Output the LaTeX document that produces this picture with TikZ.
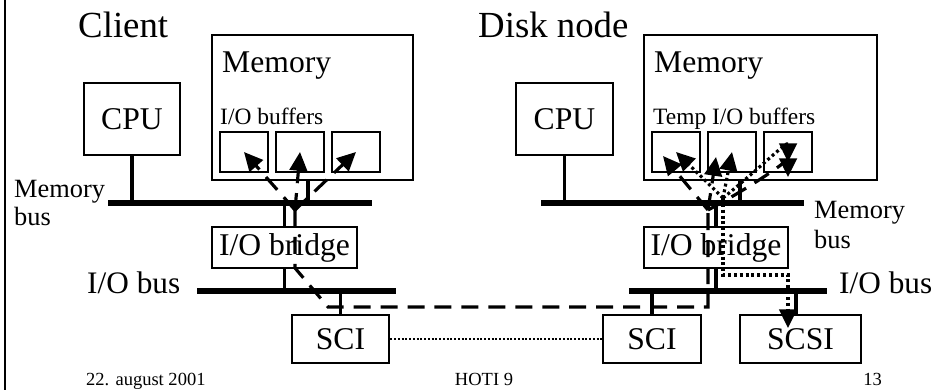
\documentclass[tikz,border=0pt]{standalone}
\usepackage{fontspec}
\setmainfont{Liberation Serif}
\usetikzlibrary{arrows.meta, calc}
\newcommand{\fsz}[1]{\fontsize{#1}{#1}\selectfont}
\tikzset{
  box/.style 2 args={draw, line width=2.5pt, minimum width=#1*0.03cm,
              minimum height=#2*0.03cm, inner sep=0pt, font=\fsz{27pt}},
  buf/.style={draw, line width=1.7pt, minimum width=48*0.03cm,
              minimum height=40*0.03cm, inner sep=0pt},
  bus/.style={line width=5pt},
  link/.style={line width=2.6pt},
  lbl/.style={anchor=base west, inner sep=0pt},
  ring/.style={line width=1.8pt, dash pattern=on 1.6pt off 1.6pt},
  wflow/.style={line width=2.7pt, dash pattern=on 14.5pt off 8.5pt},
  rflow/.style={line width=2.7pt, dash pattern=on 2.5pt off 2.5pt},
  flowtip/.style={-{Triangle[length=16pt, width=15pt]}},
}
\begin{document}
\begin{tikzpicture}[x=0.03cm, y=-0.03cm]
  \useasboundingbox (0,0) rectangle (934,390);
  \draw[line width=1.5pt] (5,0) -- (5,390);

  % client
  \node[lbl, font=\fsz{31.4pt}] (ctitle) at (78,37) {Client};
  \node[box={201}{145}] (cmem) at (312.5,107.5) {};
  \node[lbl, font=\fsz{27pt}] (cmemtxt) at (222,72) {Memory};
  \node[lbl, font=\fsz{20pt}] (cbuftxt) at (220,124) {I/O buffers};
  \foreach \i/\x in {1/244,2/300,3/356} \node[buf] (cb\i) at (\x,152) {};
  \node[box={96}{72}] (ccpu) at (132,119) {CPU};
  \node[box={145}{41}] (cbr) at (284.5,247.5) {I/O bridge};
  \node[box={97}{48}] (csci) at (340.5,339) {SCI};

  \coordinate (cmb-w) at (108,203); \coordinate (cmb-e) at (372,203);
  \coordinate (cio-w) at (197,291); \coordinate (cio-e) at (396,291);
  \coordinate (cmtap) at (308,203);
  \draw[bus] (cmb-w) -- (cmb-e);
  \draw[bus] (cio-w) -- (cio-e);
  \draw[link] (ccpu.south) -- (ccpu.south |- cmb-w);
  \draw[link] (cmtap) -- (cmtap |- cmem.south);
  \draw[link] (cbr.north) -- (cbr.north |- cmb-w);
  \draw[link] (cbr.south) -- (cbr.south |- cio-w);
  \draw[link] (csci.north) -- (csci.north |- cio-w);

  \node[lbl, font=\fsz{22.5pt}] (cmblbl) at (14,197) {Memory};
  \node[lbl, font=\fsz{22.5pt}] (cmblbl2) at (14,225) {bus};
  \node[lbl, font=\fsz{26.7pt}] (ciolbl) at (87,293) {I/O bus};

  % disk node
  \node[lbl, font=\fsz{31.4pt}] (dtitle) at (478,37) {Disk node};
  \node[box={233}{145}] (dmem) at (760.5,107.5) {};
  \node[lbl, font=\fsz{27pt}] (dmemtxt) at (654,72) {Memory};
  \node[lbl, font=\fsz{20pt}] (dbuftxt) at (653,124) {Temp I/O buffers};
  \foreach \i/\x in {1/676,2/732,3/788} \node[buf] (db\i) at (\x,152) {};
  \node[box={97}{72}] (dcpu) at (564.5,119) {CPU};
  \node[box={144}{41}] (dbr) at (716,247.5) {I/O bridge};
  \node[box={98}{48}] (dsci) at (652,339) {SCI};
  \node[box={121}{48}] (dscsi) at (800.5,339) {SCSI};

  \coordinate (dmb-w) at (541,203); \coordinate (dmb-e) at (804,203);
  \coordinate (dio-w) at (629,291); \coordinate (dio-e) at (827,291);
  \coordinate (dmtap) at (740,203);
  \coordinate (dstap) at (796,291);
  \draw[bus] (dmb-w) -- (dmb-e);
  \draw[bus] (dio-w) -- (dio-e);
  \draw[link] (dcpu.south) -- (dcpu.south |- dmb-w);
  \draw[link] (dmtap) -- (dmtap |- dmem.south);
  \draw[link] (dbr.north) -- (dbr.north |- dmb-w);
  \draw[link] (dbr.south) -- (dbr.south |- dio-w);
  \draw[link] (dsci.north) -- (dsci.north |- dio-w);
  \draw[link] (dstap) -- (dstap |- dscsi.north);

  \node[lbl, font=\fsz{22.5pt}] (dmblbl) at (814,218) {Memory};
  \node[lbl, font=\fsz{22.5pt}] (dmblbl2) at (814,248) {bus};
  \node[lbl, font=\fsz{26.7pt}] (diolbl) at (839,293) {I/O bus};

  % SCI link
  \draw[ring] (csci.east) -- (dsci.west);

  % dashed flow, client buffers <-> temp buffers
  \coordinate (cj) at (295,210);
  \coordinate (ck1) at (295,268); \coordinate (ck2) at (328,307);
  \coordinate (dk2) at (708,307); \coordinate (dj) at (708,210);
  \draw[wflow] (cj) -- (ck1) -- (ck2) -- (dk2) -- (dj);
  \foreach \i in {1,2,3} \draw[wflow, flowtip] (cj) -- (cb\i.center);
  \draw[wflow, flowtip] (dj) -- ($(db1.center)+(-13,4)$);
  \draw[wflow, flowtip] (dj) -- ($(db2.center)+(-16,5)$);
  \draw[wflow, flowtip] (dj) .. controls (760,182) and (788,160) .. ($(db3.south)+(0,4)$);

  % dotted flow, temp buffers -> SCSI
  \coordinate (dk) at (723,198);
  \coordinate (dr1) at (723,275); \coordinate (dr2) at (788,275);
  \coordinate (ssc) at (788,328);
  \draw[rflow, flowtip] (dk) -- (dr1) -- (dr2) -- (ssc);
  \draw[rflow, flowtip] (dk) -- (db1.center);
  \draw[rflow, flowtip] (dk) -- (db2.center);
  \draw[rflow, flowtip] (dk) .. controls (760,168) and (788,140) .. ($(db3.center)+(0,10)$);

  % footer
  \node[lbl, font=\fsz{15.8pt}] (date) at (86,385) {22. august 2001};
  \node[anchor=base, inner sep=0pt, font=\fsz{15.8pt}] (conf) at (484,385) {HOTI 9};
  \node[anchor=base east, inner sep=0pt, font=\fsz{15.8pt}] (page) at (882,385) {13};
\end{tikzpicture}
\end{document}
